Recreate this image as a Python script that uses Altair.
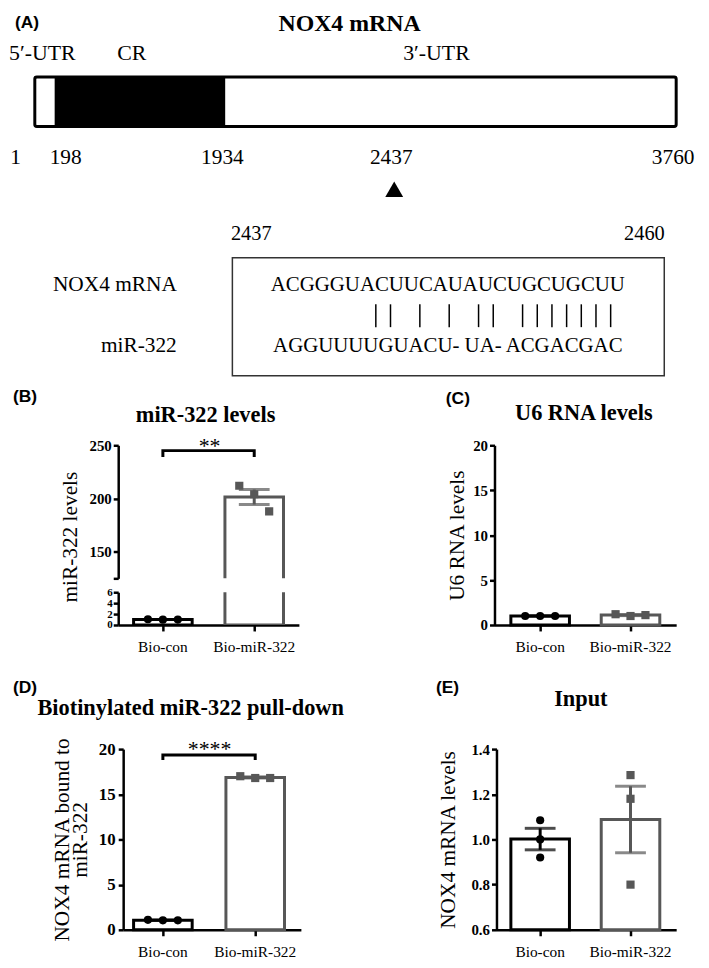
import altair as alt
import pandas as pd

SERIF = "Liberation Serif"
SANS = "Liberation Sans"
INK = "#000000"
GREY = "#575757"
BAR_W = 59

# ---------------- data ----------------
groups = ["Bio-con", "Bio-miR-322"]

# Panel A: NOX4 mRNA schematic
region_names = ["5′-UTR", "CR", "3′-UTR"]
region_kind = ["UTR", "CR", "UTR"]
region_start = [1, 198, 1934]
region_end = [198, 1934, 3760]
site_marks = [1, 198, 1934, 2437, 3760]
target_site = [2437]

# Panel A: binding-site alignment
align_span = [2437, 2460]
row_names = ["NOX4 mRNA", "miR-322"]
row_seqs = ["ACGGGUACUUCAUAUCUGCUGCUU", "AGGUUUUGUACU- UA- ACGACGAC"]
paired_nt = [2444, 2445, 2447, 2449, 2451, 2452, 2454, 2455, 2456, 2457, 2458, 2459, 2460]

# Panels B-E: replicate values (n = 3)
b_con = [1.05, 0.98, 1.00]
b_mir = [212.0, 204.0, 188.0]
c_con = [1.00, 1.00, 1.00]
c_mir = [1.20, 1.00, 1.10]
d_con = [1.10, 1.05, 1.05]
d_mir = [17.0, 16.8, 16.8]
e_con = [1.085, 1.00, 0.92]
e_mir = [1.285, 1.18, 0.80]
b_bracket = [239.0, 245.0]
d_bracket = [18.8, 19.35]

col_scale = alt.Scale(domain=groups, range=[INK, GREY])
shape_scale = alt.Scale(domain=groups, range=["circle", "square"])


def reps(con, mir):
    return pd.DataFrame({
        "group": [groups[0]] * len(con) + [groups[1]] * len(mir),
        "rep": list(range(1, len(con) + 1)) + list(range(1, len(mir) + 1)),
        "value": con + mir,
    })


def text(t, x, y, size, weight="normal", font=SERIF, align="left"):
    return alt.Chart(pd.DataFrame({"t": [t]})).mark_text(
        font=font, fontSize=size, fontWeight=weight, align=align,
        baseline="alphabetic", color=INK
    ).encode(text="t:N", x=alt.value(x), y=alt.value(y))


def spacer(w, h):
    return alt.Chart(pd.DataFrame({"s": [0]})).mark_point(opacity=0).encode(
        x=alt.X("s:Q", axis=None), y=alt.Y("s:Q", axis=None)
    ).properties(width=w, height=h)


def band(W, c1, c2, bw=BAR_W):
    step = c2 - c1
    p_in = 1 - bw / step
    used = step * (2 - p_in)
    p_out = (W / step - (2 - p_in)) / 2
    align = (c1 - bw / 2) / (W - used)
    return alt.Scale(domain=groups, paddingInner=p_in, paddingOuter=p_out, align=align)


def panel(df, xs, ys, yaxis, xaxis, clip=False, jitter=True, floor=0):
    X = alt.X("group:N", scale=xs, sort=groups, axis=xaxis)

    def Y(f):
        return alt.Y(f, scale=ys, axis=yaxis)

    col = alt.Color("group:N", scale=col_scale, legend=None)
    base = alt.Chart(df)
    bars = base.mark_bar(fill="white", strokeWidth=3, width=BAR_W, clip=clip).encode(
        x=X, y=Y("mean(value):Q"), y2=alt.datum(floor),
        stroke=alt.Stroke("group:N", scale=col_scale, legend=None))
    stats = base.transform_aggregate(
        m="mean(value)", sd="stdev(value)", n="count()", groupby=["group"]
    ).transform_calculate(
        lo="datum.m - datum.sd / sqrt(datum.n)",
        hi="datum.m + datum.sd / sqrt(datum.n)",
    )
    rule = stats.mark_rule(strokeWidth=3, clip=clip).encode(x=X, y=Y("lo:Q"), y2="hi:Q", color=col)
    cap_lo = stats.mark_tick(thickness=3, size=31, clip=clip).encode(x=X, y=Y("lo:Q"), color=col)
    cap_hi = stats.mark_tick(thickness=3, size=31, clip=clip).encode(x=X, y=Y("hi:Q"), color=col)
    pt_enc = dict(x=X, y=Y("value:Q"), color=col,
                  shape=alt.Shape("group:N", scale=shape_scale, legend=None))
    if jitter:
        pt_enc["xOffset"] = alt.XOffset("rep:N", scale=alt.Scale(paddingInner=0, paddingOuter=0.96))
    pts = base.mark_point(filled=True, opacity=1, size=68, clip=clip).encode(**pt_enc)
    return [bars, rule, cap_lo, cap_hi, pts]


def bracket(levels, xs, ys, yaxis, xaxis):
    lo, hi = levels
    df = pd.DataFrame({"group": [groups[0], groups[0], groups[1], groups[1]],
                       "level": [lo, hi, hi, lo], "k": [0, 1, 2, 3]})
    return alt.Chart(df).mark_line(color=INK, strokeWidth=3).encode(
        x=alt.X("group:N", scale=xs, sort=groups, axis=xaxis),
        y=alt.Y("level:Q", scale=ys, axis=yaxis),
        order="k:Q",
    )


# ---------------- Panel A (schematic) ----------------
xa = alt.Scale(domain=site_marks, range=[23, 43, 215, 385, 669], nice=False, zero=False)
reg = pd.DataFrame({"name": region_names, "kind": region_kind,
                    "start": region_start, "end": region_end})
seg = alt.Chart(reg).mark_rect().encode(
    x=alt.X("start:Q", scale=xa, axis=None), x2="end:Q",
    y=alt.value(65), y2=alt.value(115),
    fill=alt.Fill("kind:N", scale=alt.Scale(domain=["UTR", "CR"], range=["white", INK]), legend=None),
)
outline = alt.Chart(pd.DataFrame({"start": [min(region_start)], "end": [max(region_end)]})).mark_rect(
    fillOpacity=0, stroke=INK, strokeWidth=3, cornerRadius=2
).encode(x=alt.X("start:Q", scale=xa, axis=None), x2="end:Q", y=alt.value(65), y2=alt.value(115))

sites = pd.DataFrame({"pos": site_marks, "lab": [str(p) for p in site_marks]})
num_style = dict(font=SERIF, fontSize=21.5, baseline="alphabetic", color=INK)
num_enc = dict(x=alt.X("pos:Q", scale=xa, axis=None), y=alt.value(153), text="lab:N")
num_first = alt.Chart(sites).transform_filter(f"datum.pos == {site_marks[0]}").mark_text(
    align="right", dx=-14, **num_style).encode(**num_enc)
num_second = alt.Chart(sites).transform_filter(f"datum.pos == {site_marks[1]}").mark_text(
    align="left", dx=-5, **num_style).encode(**num_enc)
num_rest = alt.Chart(sites).transform_filter(f"datum.pos > {site_marks[1]}").mark_text(
    align="center", dx=-3, **num_style).encode(**num_enc)
arrow = alt.Chart(pd.DataFrame({"pos": target_site})).mark_point(
    shape="triangle-up", filled=True, size=324, color=INK, opacity=1
).encode(x=alt.X("pos:Q", scale=xa, axis=None), y=alt.value(178))

A1 = alt.layer(
    seg, outline, num_first, num_second, num_rest, arrow,
    text("(A)", 3, 16, 17.5, "bold", SANS),
    text("NOX4 mRNA", 340, 19, 24, "bold", align="center"),
    text(region_names[0], -3, 48, 22),
    text(region_names[1], 106, 48, 22),
    text(region_names[2], 394, 48, 22),
).properties(width=693, height=247)

# ---------------- Panel A (alignment box) ----------------
xb = alt.Scale(domain=align_span, range=[41, 381], nice=False, zero=False)
rows = pd.DataFrame({"row": row_names, "seq": row_seqs,
                     "start": align_span[0], "end": align_span[1]})
yrow = alt.Y("row:N", scale=alt.Scale(type="point", domain=row_names, range=[34, 95], padding=0), axis=None)
seq_text = alt.Chart(rows).transform_calculate(mid="(datum.start + datum.end) / 2").mark_text(
    font=SERIF, fontSize=21, baseline="alphabetic", align="center", dx=6, color=INK
).encode(x=alt.X("mid:Q", scale=xb, axis=None), y=yrow, text="seq:N")
row_text = alt.Chart(rows).mark_text(
    font=SERIF, fontSize=21.5, baseline="alphabetic", align="right", color=INK
).encode(x=alt.value(-56), y=yrow, text="row:N")
pairs = alt.Chart(pd.DataFrame({"pos": paired_nt})).mark_rule(color=INK, strokeWidth=1.5).encode(
    x=alt.X("pos:Q", scale=xb, axis=None), y=alt.value(47), y2=alt.value(70))
ends = pd.DataFrame({"pos": align_span, "lab": [str(p) for p in align_span]})
end_style = dict(font=SERIF, fontSize=20.5, baseline="alphabetic", align="center", color=INK)
end_enc = dict(x=alt.X("pos:Q", scale=xb, axis=None), y=alt.value(-18), text="lab:N")
end_l = alt.Chart(ends).transform_filter(f"datum.pos == {align_span[0]}").mark_text(dx=-22, **end_style).encode(**end_enc)
end_r = alt.Chart(ends).transform_filter(f"datum.pos == {align_span[1]}").mark_text(dx=34, **end_style).encode(**end_enc)
box = alt.layer(seq_text, row_text, pairs, end_l, end_r).properties(
    width=435, height=119, view=alt.ViewBackground(stroke="#333333", strokeWidth=1.5))
# nested concat groups count as zero-size under "flush" bounds, so the following
# spacers carry their extent
row2 = alt.hconcat(spacer(222, 119), box, spacing=0, bounds="flush")

# ---------------- Panel B (broken axis) ----------------
x_ax = alt.Axis(title=None)
dfB = reps(b_con, b_mir)
xs_b = band(182, 45, 137)
ys_bu = alt.Scale(domain=[125, 250], nice=False, zero=False)
ax_bu = alt.Axis(values=[125, 150, 200, 250], labelExpr="datum.value == 125 ? '' : datum.label",
                 title="miR-322 levels", titleY=92, titlePadding=7.5,
                 labelFlush=False, labelOverlap=False)
bu = alt.layer(
    *panel(dfB, xs_b, ys_bu, ax_bu, None, clip=True),
    bracket(b_bracket, xs_b, ys_bu, ax_bu, None),
    text("**", 92, 8, 22, align="center"),
    text("miR-322 levels", 88, -23, 22.5, "bold", align="center"),
    text("(B)", -106, -44, 17.5, "bold", SANS),
).properties(width=182, height=134)
ys_bl = alt.Scale(domain=[0, 6], nice=False)
ax_bl = alt.Axis(values=[0, 2, 4, 6], title=None, labelFontSize=11, labelPadding=1,
                 labelFlush=False, labelOverlap=False)
bl = alt.layer(*panel(dfB, xs_b, ys_bl, ax_bl, x_ax, clip=True)).properties(width=182, height=33)
B = alt.vconcat(bu, bl, spacing=14, bounds="flush")

# ---------------- Panel C ----------------
xs_c = band(183, 46, 137)
ys_c = alt.Scale(domain=[0, 20], nice=False)
ax_c = alt.Axis(values=[0, 5, 10, 15, 20], title="U6 RNA levels", titlePadding=4,
                labelFlush=False, labelOverlap=False)
C = alt.layer(
    *panel(reps(c_con, c_mir), xs_c, ys_c, ax_c, x_ax),
    text("U6 RNA levels", 90, -25, 22.5, "bold", align="center"),
    text("(C)", -49, -42, 17.5, "bold", SANS),
).properties(width=183, height=181)

# ---------------- Panel D ----------------
xs_d = band(179, 40, 133)
ys_d = alt.Scale(domain=[0, 20], nice=False)
ax_d = alt.Axis(values=[0, 5, 10, 15, 20], title=["NOX4 mRNA bound to", "miR-322"],
                titlePadding=7, titleLineHeight=18, labelFontSize=17, labelPadding=3,
                labelFlush=False, labelOverlap=False)
D = alt.layer(
    *panel(reps(d_con, d_mir), xs_d, ys_d, ax_d, x_ax),
    bracket(d_bracket, xs_d, ys_d, ax_d, x_ax),
    text("****", 87, 7, 22, align="center"),
    text("Biotinylated miR-322 pull-down", 68, -34, 22.5, "bold", align="center"),
    text("(D)", -111, -57, 17.5, "bold", SANS),
).properties(width=179, height=182)

# ---------------- Panel E ----------------
xs_e = band(181, 44, 135)
ys_e = alt.Scale(domain=[0.6, 1.4], nice=False, zero=False)
ax_e = alt.Axis(values=[0.6, 0.8, 1.0, 1.2, 1.4], format=".1f", title="NOX4 mRNA levels",
                titlePadding=12, labelFlush=False, labelOverlap=False)
E = alt.layer(
    *panel(reps(e_con, e_mir), xs_e, ys_e, ax_e, x_ax, jitter=False, floor=0.6),
    text("Input", 85, -43, 22.5, "bold", align="center"),
    text("(E)", -61, -57, 17.5, "bold", SANS),
).properties(width=181, height=182)

row3 = alt.hconcat(spacer(107, 1), B, spacer(182 + 197, 1), C, spacing=0, bounds="flush")
row4 = alt.hconcat(spacer(112, 1), D, spacer(197, 1), E, spacing=0, bounds="flush")

chart = alt.vconcat(
    A1, row2, spacer(1, 119 + 70), row3, spacer(1, 181 + 125), row4,
    spacing=0, bounds="flush", padding=0,
).configure_view(
    stroke="transparent"
).configure_axis(
    domainColor=INK, domainWidth=2.5, tickColor=INK, tickWidth=2.5, tickSize=5,
    labelColor=INK, labelFont=SERIF, labelFontSize=15, labelFontWeight="bold", labelPadding=2,
    titleFont=SERIF, titleFontSize=21.5, titleFontWeight="normal", titleColor=INK, grid=False,
).configure_axisX(
    labelFontWeight="normal", labelFontSize=15.5, tickSize=6, labelPadding=9, labelAngle=0,
)

chart.save("out.html", embed_options={"renderer": "svg", "actions": False})
